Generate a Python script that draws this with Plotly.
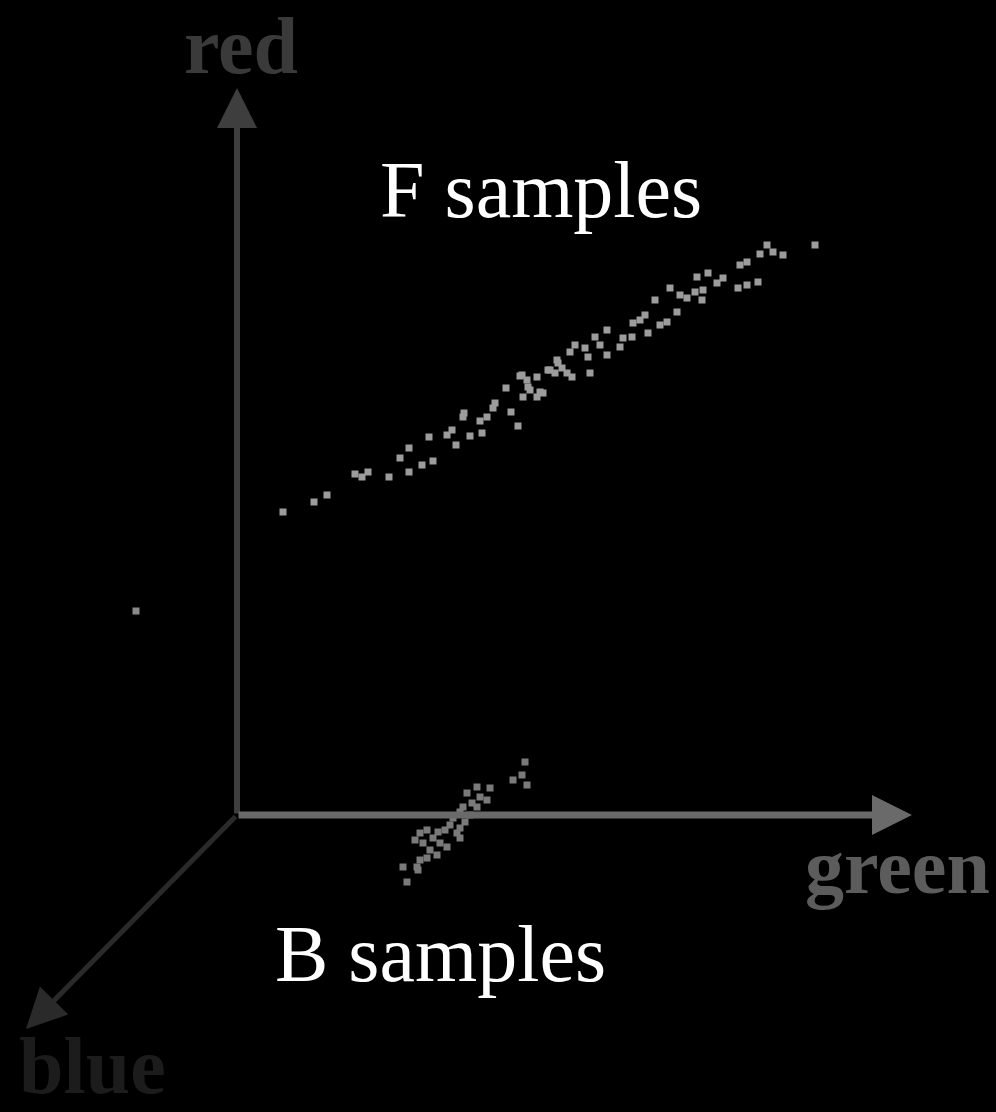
import plotly.graph_objects as go

# F samples (projected 2D positions in the diagram plane)
f_x = [283, 314, 327, 355, 362, 368, 389, 400, 409, 409, 422, 433, 429, 447, 452, 456,
       464, 463, 470, 482, 480, 487, 495, 493, 506, 511, 518, 520, 527, 537, 530, 523,
       537, 543, 548, 557, 555, 522, 528, 540, 550, 558, 567, 572, 562, 575, 570, 585,
       595, 600, 588, 607, 590, 607, 620, 623, 632, 633, 640, 645, 648, 660, 667, 677,
       655, 670, 680, 687, 695, 702, 703, 697, 708, 717, 723, 740, 747, 738, 747, 758,
       760, 767, 773, 783, 815]
f_y = [512, 502, 495, 474, 477, 472, 477, 458, 448, 472, 465, 461, 437, 435, 430, 445,
       413, 417, 436, 433, 421, 417, 403, 408, 388, 412, 426, 376, 380, 377, 390, 397,
       397, 393, 370, 360, 373, 375, 387, 392, 370, 363, 373, 377, 368, 345, 352, 348,
       337, 345, 357, 355, 373, 330, 347, 338, 337, 323, 320, 315, 333, 325, 322, 312,
       300, 288, 295, 298, 292, 300, 290, 277, 273, 283, 278, 265, 262, 288, 285, 282,
       254, 245, 252, 255, 245]

# B samples
b_x = [525, 513, 522, 527, 477, 490, 467, 480, 487, 472, 463, 477, 460, 470, 453, 465,
       450, 460, 445, 457, 438, 427, 420, 433, 460, 415, 423, 440, 447, 430, 437, 427,
       420, 417, 418, 403, 407]
b_y = [762, 780, 775, 785, 787, 788, 793, 797, 800, 803, 807, 807, 812, 815, 818, 822,
       825, 828, 830, 833, 832, 830, 833, 838, 838, 840, 843, 843, 847, 850, 855, 858,
       860, 867, 870, 867, 882]

# lone outlier
o_x = [136]
o_y = [611]

# axes (origin, tips)
origin = (237, 815)
axis_names = ["red", "green", "blue"]
axis_tips = [(237, 88), (912, 815), (26, 1029)]
axis_colors = ["#3e3e3e", "#6a6a6a", "#2a2a2a"]
axis_widths = [6, 7, 5]
label_pos = [(241, 0), (897, 866), (92, 1112)]
label_anchor = ["top", "middle", "bottom"]
label_sizes = [80, 78, 80]
label_colors = ["#3a3a3a", "#5c5c5c", "#1c1c1c"]

fig = go.Figure()
fig.add_trace(go.Scatter(x=f_x, y=f_y, mode="markers",
                         marker=dict(symbol="square", size=7, color="#9c9c9c", line=dict(width=0)),
                         hoverinfo="skip"))
fig.add_trace(go.Scatter(x=b_x, y=b_y, mode="markers",
                         marker=dict(symbol="square", size=7, color="#7a7a7a", line=dict(width=0)),
                         hoverinfo="skip"))
fig.add_trace(go.Scatter(x=o_x, y=o_y, mode="markers",
                         marker=dict(symbol="square", size=7, color="#8a8a8a", line=dict(width=0)),
                         hoverinfo="skip"))

for name, tip, col, w, lp, la, ls, lc in zip(axis_names, axis_tips, axis_colors, axis_widths,
                                              label_pos, label_anchor, label_sizes, label_colors):
    fig.add_annotation(x=tip[0], y=tip[1], ax=origin[0], ay=origin[1],
                       xref="x", yref="y", axref="x", ayref="y",
                       showarrow=True, arrowhead=2, arrowsize=8.0 / w, arrowwidth=w,
                       arrowcolor=col, text="")
    fig.add_annotation(x=lp[0], y=lp[1], xref="x", yref="y", showarrow=False,
                       yanchor=la, text="<b>" + name + "</b>",
                       font=dict(family="Liberation Serif", size=ls, color=lc))

fig.add_annotation(x=541, y=190, xref="x", yref="y", showarrow=False, text="F samples",
                   font=dict(family="Liberation Serif", size=80, color="#ffffff"))
fig.add_annotation(x=440, y=954, xref="x", yref="y", showarrow=False, text="B samples",
                   font=dict(family="Liberation Serif", size=80, color="#ffffff"))

fig.update_layout(width=996, height=1112, margin=dict(l=0, r=0, t=0, b=0),
                  paper_bgcolor="#000000", plot_bgcolor="#000000", showlegend=False,
                  xaxis=dict(range=[0, 996], visible=False, fixedrange=True),
                  yaxis=dict(range=[1112, 0], visible=False, fixedrange=True))
fig.write_html("out.html", config={"displayModeBar": False},
               post_script="document.body.style.margin='0';document.body.style.background='#000';")
